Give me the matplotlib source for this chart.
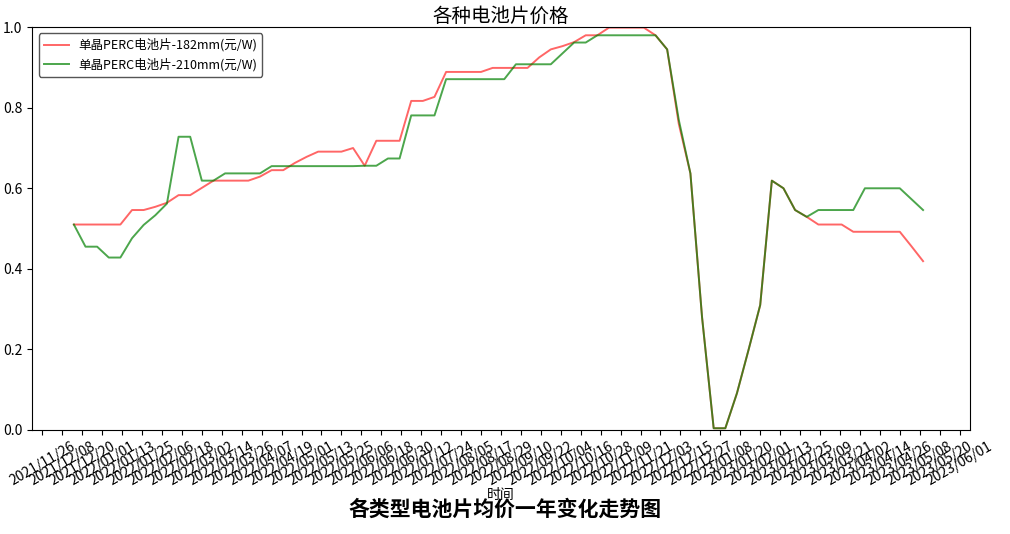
import matplotlib
matplotlib.use("Agg")
import matplotlib.pyplot as plt
import matplotlib.dates as mdates
import numpy as np
import datetime as dt

plt.rcParams['font.family'] = ['Noto Sans CJK SC', 'DejaVu Sans']
plt.rcParams['axes.unicode_minus'] = False

start = dt.date(2021, 12, 15)
red_182 = [0.510, 0.510, 0.510, 0.510, 0.510, 0.546, 0.546, 0.554, 0.564, 0.583,
           0.583, 0.601, 0.619, 0.619, 0.619, 0.619, 0.629, 0.645, 0.645, 0.663,
           0.678, 0.691, 0.691, 0.691, 0.700, 0.656, 0.718, 0.718, 0.718, 0.817,
           0.817, 0.827, 0.889, 0.889, 0.889, 0.889, 0.899, 0.899, 0.899, 0.899,
           0.925, 0.945, 0.953, 0.963, 0.980, 0.980, 0.999, 0.999, 0.999, 0.999,
           0.980, 0.945, 0.760, 0.637, 0.280, 0.004, 0.004, 0.091, 0.199, 0.310,
           0.619, 0.600, 0.546, 0.529, 0.510, 0.510, 0.510, 0.492, 0.492, 0.492,
           0.492, 0.492, 0.456, 0.419]
green_210 = [0.510, 0.455, 0.455, 0.428, 0.428, 0.476, 0.509, 0.533, 0.562, 0.728,
             0.728, 0.619, 0.619, 0.637, 0.637, 0.637, 0.637, 0.655, 0.655, 0.655,
             0.655, 0.655, 0.655, 0.655, 0.655, 0.656, 0.656, 0.674, 0.674, 0.781,
             0.781, 0.781, 0.871, 0.871, 0.871, 0.871, 0.871, 0.871, 0.908, 0.908,
             0.908, 0.908, 0.935, 0.962, 0.962, 0.980, 0.980, 0.980, 0.980, 0.980,
             0.980, 0.945, 0.770, 0.637, 0.280, 0.004, 0.004, 0.091, 0.199, 0.310,
             0.619, 0.600, 0.546, 0.529, 0.546, 0.546, 0.546, 0.546, 0.600, 0.600,
             0.600, 0.600, 0.573, 0.546]
dates = [start + dt.timedelta(days=7 * i) for i in range(len(red_182))]
tick_start = dt.date(2021, 11, 26)
ticks = [tick_start + dt.timedelta(days=12 * i) for i in range(47)]

fig = plt.figure(figsize=(10.1, 5.34), dpi=100)
ax = fig.add_axes([0.032, 0.195, 0.928, 0.754])
ax.plot(dates, red_182, color='red', alpha=0.6, lw=1.4, label='单晶PERC电池片-182mm(元/W)')
ax.plot(dates, green_210, color='green', alpha=0.7, lw=1.4, label='单晶PERC电池片-210mm(元/W)')
ax.set_xlim(dt.date(2021, 11, 20), dt.date(2023, 6, 7))
ax.set_ylim(0, 1.0)
ax.set_yticks(np.arange(0, 1.01, 0.2))
ax.set_xticks(ticks)
ax.xaxis.set_major_formatter(mdates.DateFormatter('%Y/%m/%d'))
plt.setp(ax.get_xticklabels(), rotation=30, ha='center', fontsize=10)
ax.tick_params(axis='y', labelsize=10)
ax.set_xlabel('时间', fontsize=10, labelpad=0)
ax.set_title('各种电池片价格', fontsize=14, pad=2)
ax.legend(loc='upper left', fontsize=9, framealpha=1, edgecolor='#555555', fancybox=True)
fig.text(0.5, 0.035, '各类型电池片均价一年变化走势图', ha='center', fontsize=15, fontweight='bold')
fig.savefig('out.png', dpi=100)
